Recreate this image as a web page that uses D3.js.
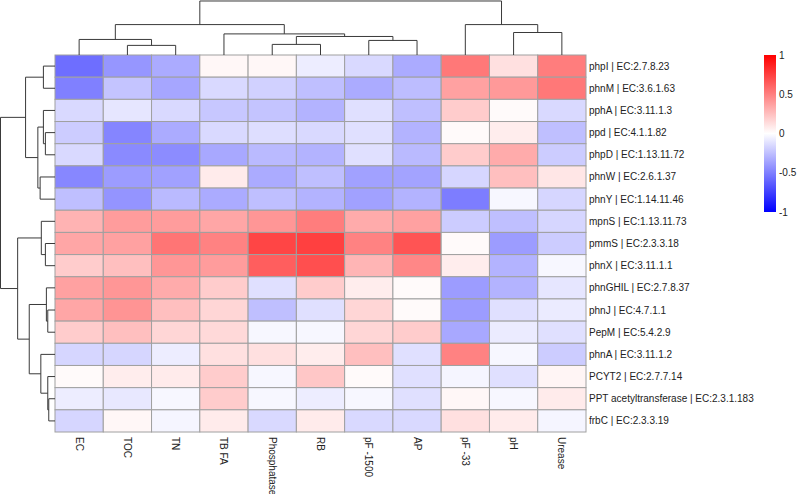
<!DOCTYPE html>
<html><head><meta charset="utf-8">
<script src="https://cdn.jsdelivr.net/npm/d3@7/dist/d3.min.js"></script>
<style>body{margin:0;background:#fff}svg{display:block}text{font-family:"Liberation Sans",Arial,sans-serif;}</style>
</head><body>
<svg id="c" width="797" height="494"></svg>
<script>
const columns = ["EC","TOC","TN","TB FA","Phosphatase","RB","pF -1500","AP","pF -33","pH","Urease"];
const rows = ["phpI | EC:2.7.8.23","phnM | EC:3.6.1.63","pphA | EC:3.11.1.3","ppd | EC:4.1.1.82","phpD | EC:1.13.11.72","phnW | EC:2.6.1.37","phnY | EC:1.14.11.46","mpnS | EC:1.13.11.73","pmmS | EC:2.3.3.18","phnX | EC:3.11.1.1","phnGHIL | EC:2.7.8.37","phnJ | EC:4.7.1.1","PepM | EC:5.4.2.9","phnA | EC:3.11.1.2","PCYT2 | EC:2.7.7.14","PPT acetyltransferase | EC:2.3.1.183","frbC | EC:2.3.3.19"];
// correlation values, one row per gene, columns in the order above
const values = [
 [-0.57,-0.41,-0.33, 0.03, 0.03,-0.07,-0.15,-0.33, 0.53, 0.12, 0.51],
 [-0.50,-0.23,-0.35,-0.15,-0.18,-0.25,-0.33,-0.26, 0.37, 0.40, 0.53],
 [-0.15,-0.10,-0.15,-0.22,-0.23,-0.30,-0.12,-0.25, 0.20, 0.02,-0.15],
 [-0.20,-0.48,-0.33,-0.15,-0.13,-0.15,-0.12,-0.30, 0.02, 0.07,-0.25],
 [-0.15,-0.46,-0.45,-0.34,-0.27,-0.30,-0.12,-0.27, 0.20, 0.33,-0.20],
 [-0.47,-0.39,-0.37, 0.08,-0.33,-0.25,-0.37,-0.36,-0.16, 0.25, 0.10],
 [-0.25,-0.42,-0.27,-0.33,-0.25,-0.30,-0.37,-0.30,-0.51,-0.03,-0.16],
 [ 0.30, 0.39, 0.39, 0.35, 0.41, 0.51, 0.33, 0.37,-0.20,-0.25,-0.16],
 [ 0.35, 0.37, 0.54, 0.49, 0.73, 0.75, 0.49, 0.67, 0.02,-0.39,-0.20],
 [ 0.20, 0.25, 0.41, 0.39, 0.63, 0.69, 0.29, 0.47, 0.07,-0.30,-0.03],
 [ 0.37, 0.41, 0.33, 0.20,-0.12, 0.20, 0.07, 0.02,-0.39,-0.30,-0.10],
 [ 0.35, 0.42, 0.25, 0.16,-0.25,-0.12, 0.16, 0.02,-0.39,-0.12,-0.08],
 [ 0.20, 0.25, 0.16, 0.15,-0.03,-0.03, 0.16, 0.20,-0.34,-0.08,-0.12],
 [-0.16,-0.16,-0.07, 0.12, 0.12, 0.07, 0.25,-0.12, 0.49,-0.03,-0.20],
 [ 0.02, 0.07, 0.08, 0.20,-0.03, 0.22, 0.02,-0.12,-0.04,-0.12, 0.04],
 [-0.07,-0.09,-0.03, 0.20,-0.03,-0.07,-0.03,-0.12, 0.03,-0.03, 0.08],
 [-0.16, 0.03,-0.04, 0.08,-0.15, 0.08,-0.15,-0.15, 0.12, 0.08,-0.04]
];
// dendrogram merges (hclust style: negative = leaf index+1, positive = earlier merge number)
const colMerge = [[-2,-3],[-1,1],[-5,-6],[-7,-8],[3,4],[-4,5],[2,6],[-10,-11],[-9,8],[7,9]];
const colHeight = [9.7,15.7,10.7,14.7,18.7,21.3,30.7,22.7,30.7,54.5];
const rowMerge = [[-1,-2],[-4,-5],[-3,2],[-6,-7],[3,4],[1,5],[-9,-10],[-8,7],[-12,-13],[-11,9],[-16,-17],[-15,11],[-14,12],[10,13],[8,14],[6,15]];
const rowHeight = [11.7,9.7,11.7,15,17.3,29.7,9.7,13.8,7.3,8.7,6.3,7.3,14.3,26,37.7,55];
const legendTicks = [1,0.5,0,-0.5,-1];

const svg = d3.select("#c");
const x = d3.scaleBand().domain(columns).range([55,586]);
const y = d3.scaleBand().domain(rows).range([55,432]);
const color = d3.scaleLinear().domain([-1,0,1]).range(["#0000ff","#ffffff","#ff0000"]);

// cells
const cells = [];
values.forEach((r,i)=>r.forEach((v,j)=>cells.push({row:rows[i],col:columns[j],v})));
svg.append("g").selectAll("rect").data(cells).join("rect")
 .attr("x",d=>x(d.col)).attr("y",d=>y(d.row))
 .attr("width",x.bandwidth()).attr("height",y.bandwidth())
 .attr("fill",d=>color(d.v)).attr("stroke","#a0a0a0").attr("stroke-width",1);

// dendrograms
function dendro(merge, heights, leafPos, hScale, vertical){
  const pos=[], hh=[];
  const P=k=>k<0?leafPos(-k-1):pos[k-1];
  const H=k=>k<0?0:hh[k-1];
  const segs=[];
  merge.forEach((m,i)=>{
    const a=m[0], b=m[1], h=heights[i];
    const pa=P(a), pb=P(b);
    pos.push((pa+pb)/2); hh.push(h);
    segs.push([[pa,H(a)],[pa,h],[pb,h],[pb,H(b)]]);
  });
  return segs.map(s=>s.map(([p,h])=>vertical?[p,hScale(h)]:[hScale(h),p]));
}
const colH = d3.scaleLinear().domain([0,55]).range([55,0.5]);
const rowH = d3.scaleLinear().domain([0,55]).range([55,0.5]);
const line = d3.line();
svg.append("g").selectAll("path").data(dendro(colMerge,colHeight,i=>x(columns[i])+x.bandwidth()/2,colH,true))
 .join("path").attr("d",line).attr("fill","none").attr("stroke","#3a3a3a").attr("stroke-width",1);
svg.append("g").selectAll("path").data(dendro(rowMerge,rowHeight,i=>y(rows[i])+y.bandwidth()/2,rowH,false))
 .join("path").attr("d",line).attr("fill","none").attr("stroke","#3a3a3a").attr("stroke-width",1);

// row labels
svg.append("g").selectAll("text").data(rows).join("text")
 .attr("x",589).attr("y",d=>y(d)+y.bandwidth()/2).attr("dy","0.35em")
 .attr("font-size",10).attr("fill","#222").text(d=>d);
// column labels
svg.append("g").selectAll("text").data(columns).join("text")
 .attr("transform",d=>`translate(${x(d)+x.bandwidth()/2},437) rotate(90)`)
 .attr("dy","0.35em").attr("font-size",10).attr("fill","#222").text(d=>d);

// legend
const ly = d3.scaleLinear().domain([-1,1]).range([212,55]);
const defs = svg.append("defs");
const grad = defs.append("linearGradient").attr("id","lg").attr("x1",0).attr("y1",1).attr("x2",0).attr("y2",0);
[-1,0,1].forEach((v,i)=>grad.append("stop").attr("offset",i/2).attr("stop-color",color(v)));
svg.append("rect").attr("x",764).attr("y",ly(1)).attr("width",12).attr("height",ly(-1)-ly(1)).attr("fill","url(#lg)");
svg.append("g").selectAll("text").data(legendTicks).join("text")
 .attr("x",779).attr("y",d=>ly(d)).attr("dy","0.35em").attr("font-size",10).attr("fill","#222").text(d=>d);
</script>
</body></html>
